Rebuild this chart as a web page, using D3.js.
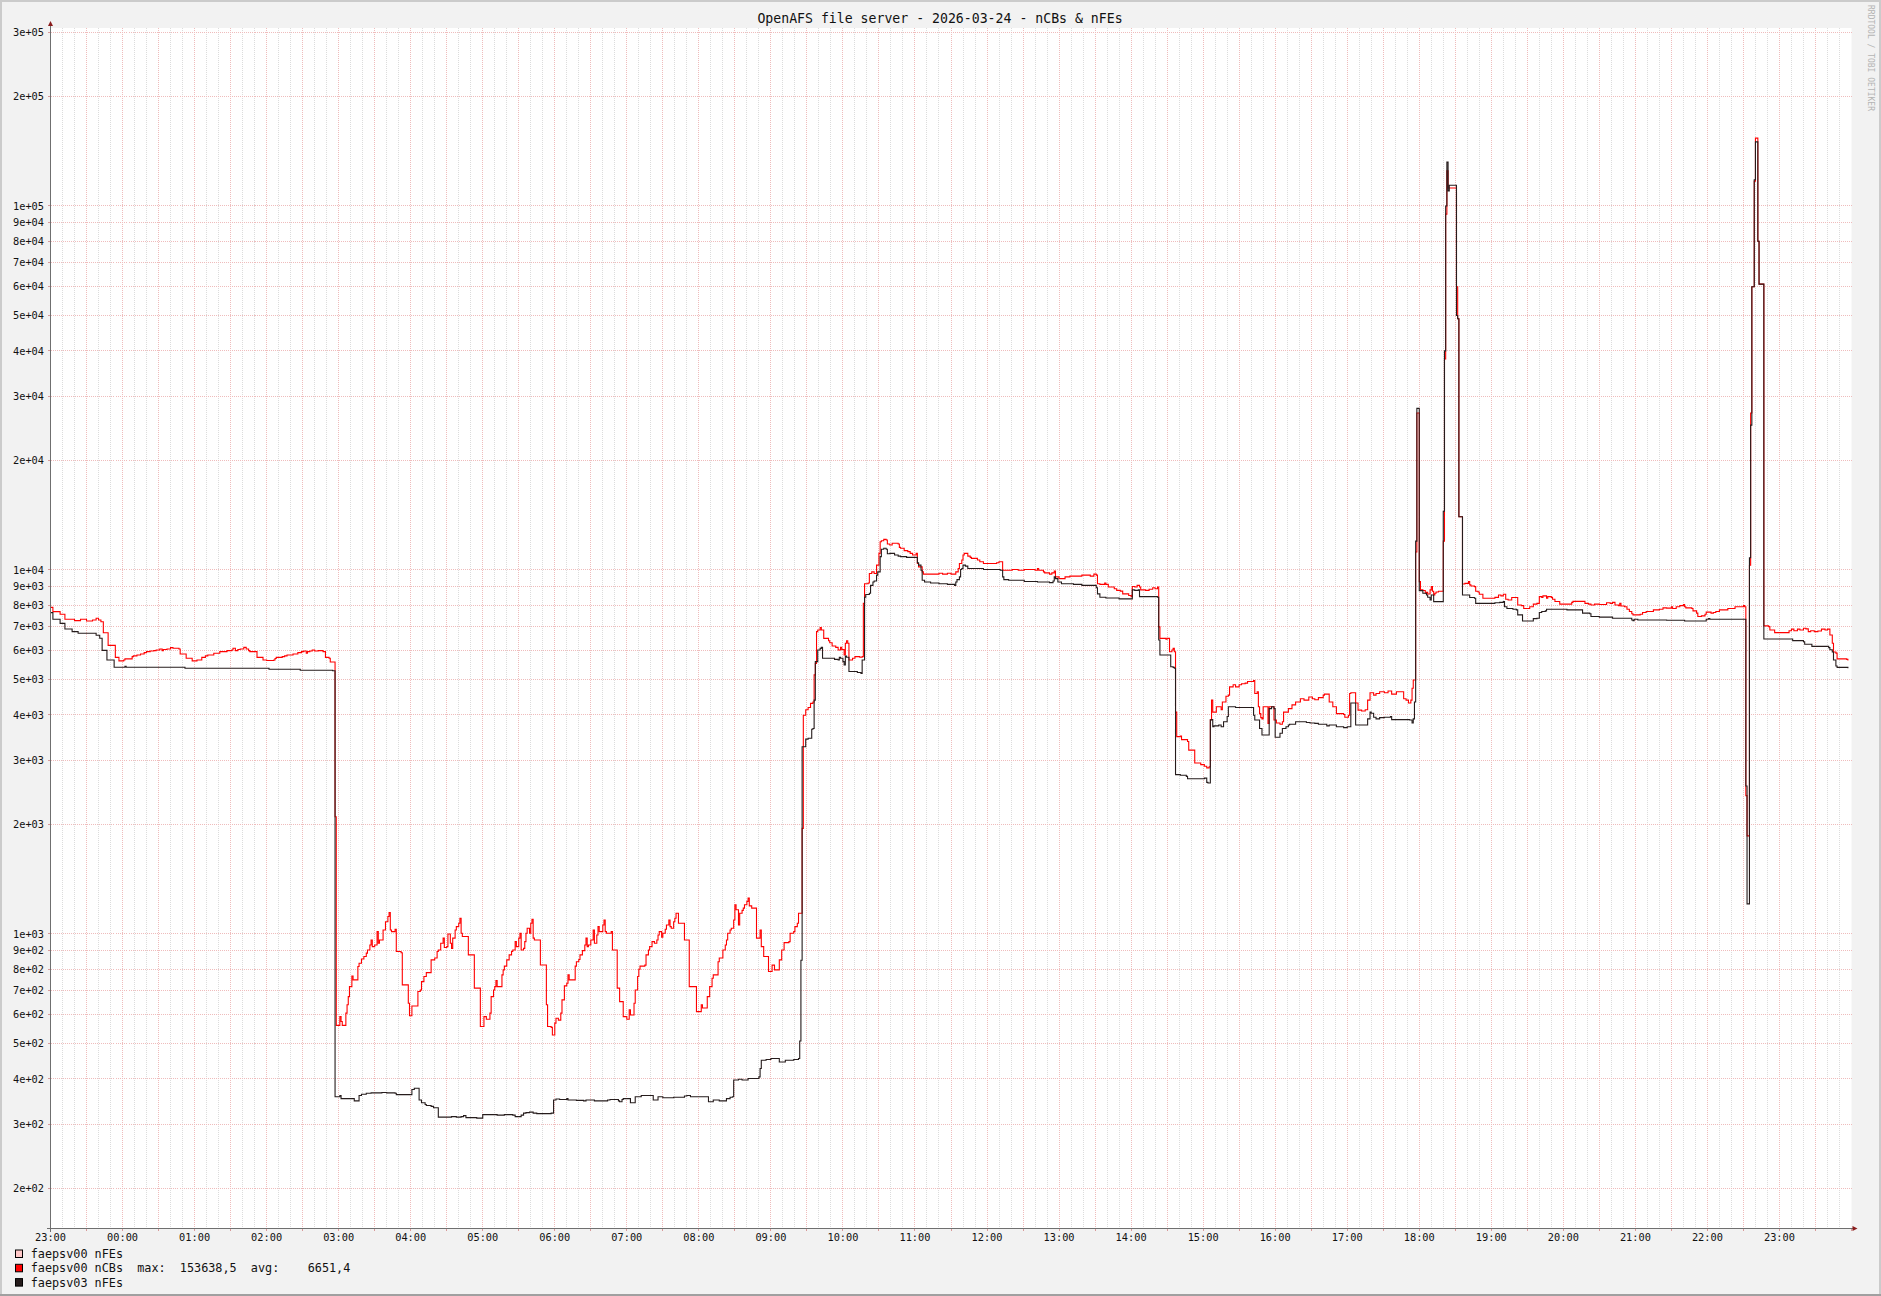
<!DOCTYPE html>
<html><head><meta charset="utf-8">
<script src="https://cdn.jsdelivr.net/npm/d3@7"></script>
<style>
html,body{margin:0;padding:0;background:#f2f2f2;}
svg{display:block;}
text{font-family:"DejaVu Sans Mono",monospace;}
</style></head><body>
<svg id="c" width="1881" height="1296"></svg>
<script>
// ---------------- data ----------------
const chartTitle = "OpenAFS file server - 2026-03-24 - nCBs & nFEs";
const watermark = "RRDTOOL / TOBI OETIKER";
// x axis: minutes since 2026-03-23 23:00, 25 hours shown
const xDomainMinutes = [0, 1500];
const hourLabels = ["23:00","00:00","01:00","02:00","03:00","04:00","05:00","06:00","07:00","08:00","09:00","10:00","11:00","12:00","13:00","14:00","15:00","16:00","17:00","18:00","19:00","20:00","21:00","22:00","23:00"];
const yDomain = [155.7, 308300];
const yTickValues = [200,300,400,500,600,700,800,900,1000,2000,3000,4000,5000,6000,7000,8000,9000,10000,20000,30000,40000,50000,60000,70000,80000,90000,100000,200000,300000];
const yTickLabels = ["2e+02","3e+02","4e+02","5e+02","6e+02","7e+02","8e+02","9e+02","1e+03","2e+03","3e+03","4e+03","5e+03","6e+03","7e+03","8e+03","9e+03","1e+04","2e+04","3e+04","4e+04","5e+04","6e+04","7e+04","8e+04","9e+04","1e+05","2e+05","3e+05"];
const seriesNames = ["faepsv00 nFEs","faepsv00 nCBs","faepsv03 nFEs"];
const seriesColors = ["#ffc8c8","#ff0000","#261c1c"];
const legendStats = ["","  max:  153638,5  avg:    6651,4",""];

// [minute, value] steps
const faepsv00Nfe = [];
const faepsv00Ncb = [[0,7895],[2,7685],[8,7555],[12,7320],[20,7260],[25,7320],[30,7240],[35,7290],[38,7370],[40,7290],[42,7210],[44,6726],[48,6209],[54,5755],[57,5627],[61,5660],[62,5700],[68,5780],[69,5807],[72,5843],[75,5879],[78,5928],[80,5965],[83,5992],[86,6004],[88,6030],[91,6068],[93,6004],[94,6050],[97,6068],[100,6118],[102,6093],[107,6068],[108,5879],[113,5720],[118,5627],[122,5660],[126,5755],[129,5807],[131,5843],[136,5904],[141,5965],[147,6004],[151,6030],[152,6093],[154,6004],[156,6050],[158,6068],[161,6131],[163,6068],[165,6004],[166,5965],[172,5755],[177,5660],[180,5640],[186,5660],[187,5710],[188,5755],[193,5780],[195,5807],[197,5843],[202,5879],[206,5928],[209,5965],[211,5992],[213,5904],[214,5965],[216,5992],[218,6030],[220,5992],[223,6004],[227,5965],[229,5755],[232,5720],[233,5588],[237,2100],[238,561],
[241,593],[242,575],[243,561],[246,606],[247,639],[248,673],[249,717],[251,767],[252,748],[256,814],[257,831],[259,854],[261,867],[263,886],[264,904],[266,933],[267,963],[268,923],[270,933],[272,1015],[273,943],[274,963],[277,1026],[279,1081],[281,1117],[282,1145],[283,1026],[284,1015],[287,1030],[288,895],[292,888],[293,725],[298,645],[299,596],[301,634],[306,695],[308,702],[309,740],[311,764],[313,783],[317,849],[320,859],[322,895],[323,904],[325,943],[327,974],[328,918],[330,923],[331,1000],[333,943],[334,913],[335,974],[337,1026],[338,1048],[340,1070],[341,1105],[342,1005],[343,984],[348,876],[353,710],[358,557],[361,593],[363,583],[366,606],[367,673],[369,702],[370,717],[371,745],[372,717],[376,772],[377,797],[378,816],[380,849],[382,876],[384,895],[385,904],[387,953],[388,923],[390,974],[391,1005],[392,904],[394,913],[395,953],[396,1005],[397,1037],[399,1005],[400,1070],[401,1098],[402,974],[403,963],[408,822],[413,639],[414,557],[417,554],[418,528],[420,569],[421,587],[423,580],[425,606],[426,659],[428,720],[430,732],[431,772],[432,748],[437,816],[438,839],[440,851],[441,876],[443,900],[445,933],[446,974],[447,923],[448,933],[450,963],[452,1026],[453,943],[455,994],[456,1048],[457,1015],[460,1059],[461,1093],[462,1015],[463,1005],[467,1015],[468,904],[472,710],[474,652],[477,593],[480,583],[482,619],[483,599],[486,645],[487,702],[489,764],[490,800],[491,816],[495,821],[496,876],[498,904],[499,923],[501,953],[503,943],[505,963],[506,994],[507,1015],[509,980],[510,1005],[512,1030],[513,1059],[515,1093],[516,1048],[517,1037],[519,1081],[520,1105],[521,1140],[523,1070],[528,963],[532,717],[538,612],[542,639],[543,626],[547,673],[549,717],[551,756],[552,772],[556,839],[557,859],[560,904],[562,933],[563,963],[564,1005],[566,1026],[567,1037],[569,1093],[570,1203],[571,1166],[573,1059],[574,1140],[576,1161],[577,1178],[578,1203],[580,1229],[581,1255],[582,1195],[584,1178],[588,974],[591,1026],[592,923],[594,867],[598,789],[601,821],[603,797],[607,849],[609,904],[611,947],[615,953],[616,1005],[619,1015],[620,1048],[622,1070],[623,1140],[626,1950],[627,3990],
[629,4130],[631,4190],[633,4300],[635,4340],[636,5150],[637,5540],[638,6770],[639,6840],[641,6950],[642,6840],[644,6490],[648,6390],[649,6310],[651,6180],[654,6130],[656,6030],[658,6130],[659,6050],[661,5840],[662,6290],[663,6390],[664,6290],[665,5660],[668,5720],[670,5780],[674,5760],[676,5780],[677,8095],[678,9170],[681,9210],[682,9780],[684,9880],[686,9780],[688,10310],[690,11110],[691,11960],[692,12030],[694,12140],[696,12090],[697,11790],[699,11710],[701,11840],[706,11790],[707,11540],[708,11470],[711,11300],[714,11230],[716,11110],[718,10990],[721,11110],[722,10420],[723,10200],[726,9880],[727,9740],[737,9740],[740,9800],[743,9740],[747,9800],[750,9740],[754,9880],[756,10090],[757,10420],[759,10650],[760,10990],[761,11110],[764,10920],[766,10830],[767,10760],[772,10650],[774,10540],[777,10420],[788,10470],[790,10540],[793,9985],[801,10030],[806,9985],[811,10030],[820,9985],[822,10090],[823,9985],[827,9880],[828,9820],[832,9740],[834,9820],[836,9940],[837,9575],[840,9470],[845,9575],[849,9620],[859,9680],[866,9620],[869,9740],[871,9680],[872,9170],[874,9130],[878,9210],[879,9130],[881,8980],[886,8880],[888,8790],[891,8750],[893,8600],[898,8510],[900,8450],[901,9010],[903,8980],[905,9070],[907,8980],[908,8820],[912,8790],[915,8850],[918,8940],[920,8880],[922,8980],[923,6980],[924,6490],[929,6450],[930,6490],[932,5960],[934,6030],[935,6090],[936,5960],[937,4070],[938,3485],[941,3500],[942,3420],[947,3380],[948,3200],[953,2950],[958,2920],[961,2890],[963,2860],[965,2880],[966,3880],[967,4390],[968,4070],[971,4210],[975,4130],[976,4340],[979,4500],[981,4530],[982,4775],[985,4840],[987,4775],[990,4840],[992,4870],[995,4890],[997,4940],[1002,4970],[1003,4580],[1005,4630],[1006,4210],[1007,4030],[1008,3930],[1009,3900],[1010,4210],[1014,3790],[1015,4210],[1019,3870],[1021,3800],[1024,3770],[1026,3830],[1027,4070],[1031,4160],[1034,4260],[1037,4340],[1041,4430],[1044,4390],[1048,4480],[1051,4430],[1053,4400],[1056,4460],[1060,4530],[1061,4560],[1065,4340],[1068,4210],[1071,4030],[1077,4010],[1078,3940],[1081,3990],[1082,4580],[1083,4600],[1087,4310],[1089,4120],[1092,4100],[1095,4130],[1097,4390],[1099,4600],[1102,4530],[1104,4580],[1107,4630],[1111,4600],[1114,4650],[1117,4560],[1121,4630],[1127,4430],[1129,4390],[1131,4310],[1133,4390],[1134,4731],[1135,4984],[1137,11200],[1138,27000],[1140,9290],[1141,8820],[1143,8780],[1145,8630],[1146,8680],[1147,8590],[1149,8820],[1150,9000],[1151,8740],[1152,8540],[1153,8630],[1154,8700],[1156,8740],[1160,12000],[1161,38000],[1162,95000],[1163,125000],[1164,112000],[1171,60000],[1172,49000],[1173,14000],[1176,9150],[1178,9190],[1181,9290],[1182,9100],[1183,9040],[1186,9000],[1187,8740],[1189,8700],[1190,8580],[1193,8365],[1203,8410],[1206,8540],[1208,8490],[1210,8580],[1212,8310],[1214,8270],[1217,8400],[1222,8010],[1225,7980],[1227,7840],[1232,7925],[1235,8060],[1238,8095],[1240,8450],[1242,8410],[1243,8490],[1246,8365],[1247,8450],[1250,8410],[1251,8310],[1253,8190],[1257,8060],[1267,8150],[1268,8200],[1278,8095],[1281,8060],[1283,8010],[1286,8060],[1290,8040],[1296,8130],[1299,8095],[1301,8150],[1303,8010],[1306,7980],[1307,8095],[1308,7960],[1311,7925],[1313,7800],[1315,7690],[1317,7580],[1318,7526],[1324,7560],[1326,7640],[1329,7690],[1335,7768],[1340,7800],[1343,7870],[1346,7855],[1350,7925],[1351,7840],[1354,7925],[1357,7980],[1360,8040],[1361,7925],[1362,7870],[1367,7840],[1368,7720],[1371,7610],[1372,7450],[1375,7480],[1378,7560],[1379,7660],[1383,7610],[1385,7640],[1387,7690],[1390,7768],[1397,7840],[1403,7925],[1410,7980],[1411,7925],[1412,2400],[1413,1860],[1415,10300],[1416,27000],[1417,60000],[1419,117000],[1420,153638],[1422,80000],[1423,61000],[1427,7020],[1431,6990],[1432,6840],[1436,6730],[1448,6810],[1450,6880],[1452,6810],[1455,6880],[1457,6840],[1460,6920],[1462,6890],[1464,6770],[1466,6810],[1469,6770],[1472,6800],[1475,6880],[1478,6840],[1480,6880],[1482,6630],[1484,6290],[1485,5950],[1487,5910],[1488,5700],[1496,5680],[1497,5640]];
const faepsv03Nfe = [[0,7635],[2,7320],[8,7136],[12,6885],[18,6771],[23,6700],[38,6616],[41,6491],[43,6014],[47,5657],[53,5404],[62,5440],[63,5404],[112,5371],[182,5339],[208,5306],[235,5285],[237,357],[241,360],[242,353],[253,348],[257,360],[259,363],[263,365],[267,366],[276,367],[280,366],[287,365],[288,362],[301,374],[303,377],[307,350],[309,344],[312,340],[313,338],[317,336],[319,333],[323,314],[334,315],[338,314],[342,315],[344,317],[346,313],[355,312],[360,319],[372,318],[378,319],[385,318],[387,315],[392,318],[394,322],[396,323],[399,324],[402,322],[405,321],[417,322],[419,350],[421,352],[424,351],[430,353],[431,350],[438,349],[444,348],[446,350],[453,348],[464,350],[466,351],[473,348],[474,346],[476,351],[477,353],[483,344],[487,357],[492,360],[502,350],[506,357],[510,355],[519,356],[528,359],[530,360],[533,357],[548,346],[552,350],[557,348],[563,353],[566,356],[568,357],[569,397],[573,399],[576,397],[581,401],[590,405],[591,427],[592,450],[596,452],[600,455],[607,445],[612,450],[619,452],[623,455],[624,508],[625,847],[626,3270],[629,3430],[631,3450],[634,3650],[635,3670],[636,4390],[637,5600],[639,6030],[641,6090],[642,6130],[643,5720],[653,5680],[656,5660],[657,5760],[658,5720],[660,5600],[661,5480],[662,5800],[663,5760],[665,5260],[672,5230],[675,5200],[676,5660],[678,8420],[679,8560],[682,8630],[683,9070],[685,9270],[686,9330],[688,9680],[689,9880],[691,10880],[692,11400],[694,11470],[696,11400],[697,11080],[699,11110],[703,10990],[706,10920],[708,10880],[713,10830],[722,10470],[723,10310],[725,9985],[726,9370],[728,9270],[733,9210],[740,9170],[747,9130],[753,9070],[754,9270],[755,9410],[757,9575],[758,10030],[759,10090],[760,10310],[762,10250],[764,10090],[777,10030],[791,9985],[793,9575],[794,9410],[798,9370],[811,9300],[822,9270],[832,9230],[835,9330],[836,9575],[837,9470],[839,9270],[842,9170],[852,9130],[859,9070],[871,8940],[872,8600],[874,8420],[879,8380],[890,8330],[901,8820],[903,8790],[906,8820],[907,8450],[922,8420],[923,6420],[924,5840],[932,5840],[933,5420],[935,5400],[936,5370],[937,2740],[941,2730],[946,2710],[947,2670],[961,2680],[963,2610],[964,2600],[966,3870],[967,3880],[968,3710],[969,3730],[973,3750],[975,3710],[977,3830],[980,3960],[981,4210],[987,4190],[1002,3990],[1003,3870],[1007,3670],[1009,3520],[1015,4160],[1017,4210],[1019,4160],[1020,3470],[1024,3560],[1026,3670],[1029,3710],[1031,3750],[1032,3770],[1037,3830],[1046,3810],[1049,3800],[1053,3790],[1056,3770],[1063,3730],[1065,3750],[1071,3710],[1077,3690],[1080,3710],[1083,4310],[1087,3750],[1097,3900],[1099,4070],[1100,4040],[1102,3940],[1104,3900],[1107,3930],[1111,3940],[1116,3960],[1117,3880],[1132,3870],[1134,3800],[1135,3900],[1136,4340],[1137,12000],[1138,27800],[1140,8776],[1143,8630],[1146,8539],[1147,8414],[1149,8274],[1150,8539],[1152,8187],[1155,8187],[1160,14500],[1161,40000],[1162,100000],[1163,132000],[1164,110000],[1165,114000],[1171,50000],[1172,49000],[1173,14000],[1176,8540],[1182,8400],[1186,8365],[1187,8095],[1203,8130],[1207,8150],[1210,8187],[1211,7925],[1213,7840],[1218,7800],[1221,7768],[1222,7526],[1226,7245],[1235,7350],[1238,7370],[1240,7640],[1242,7690],[1245,7720],[1246,7800],[1263,7768],[1276,7610],[1282,7580],[1283,7450],[1290,7420],[1301,7370],[1317,7290],[1318,7260],[1319,7320],[1322,7290],[1346,7275],[1361,7245],[1379,7320],[1381,7350],[1382,7320],[1412,2550],[1413,1210],[1415,10800],[1416,25000],[1417,60000],[1419,118000],[1420,150000],[1422,80000],[1423,61000],[1427,6464],[1451,6395],[1460,6350],[1461,6250],[1467,6170],[1481,6120],[1482,6040],[1484,5950],[1485,5660],[1487,5450],[1488,5400],[1497,5375]];
const seriesData = [faepsv00Nfe, faepsv00Ncb, faepsv03Nfe];

// ---------------- drawing ----------------
const W = 1881, H = 1296;
const plot = {left: 50.5, right: 1851.5, top: 28, bottom: 1228};
const svg = d3.select("#c");

svg.append("rect").attr("width", W).attr("height", H).attr("fill", "#f2f2f2");
// frame
svg.append("rect").attr("x",0).attr("y",0).attr("width",W).attr("height",2).attr("fill","#cbcbcb");
svg.append("rect").attr("x",0).attr("y",0).attr("width",2).attr("height",H).attr("fill","#cbcbcb");
svg.append("rect").attr("x",W-2).attr("y",0).attr("width",2).attr("height",H).attr("fill","#cbcbcb");
svg.append("rect").attr("x",0).attr("y",H-2).attr("width",W).attr("height",2).attr("fill","#a0a0a0");

const x = d3.scaleLinear().domain(xDomainMinutes).range([plot.left, plot.right]);
const y = d3.scaleLog().domain(yDomain).range([plot.bottom, plot.top]);

svg.append("rect").attr("x", plot.left).attr("y", plot.top)
  .attr("width", plot.right - plot.left).attr("height", plot.bottom - plot.top).attr("fill", "#ffffff");

const snap = v => Math.round(v - 0.5) + 0.5;
const majorGrid = "#efbcbc", minorGrid = "#dcdcdc";
const grid = svg.append("g");
// vertical grid: minor every 10 min, major every 30 min
const vTicks = d3.range(10, xDomainMinutes[1], 10);
grid.selectAll("line.v").data(vTicks).join("line")
  .attr("x1", d => snap(x(d))).attr("x2", d => snap(x(d)))
  .attr("y1", plot.top).attr("y2", plot.bottom)
  .attr("stroke", d => d % 30 === 0 ? majorGrid : minorGrid)
  .attr("stroke-width", 1).attr("stroke-dasharray", "1,1")
  .attr("shape-rendering", "crispEdges");
// horizontal grid
grid.selectAll("line.h").data(yTickValues).join("line")
  .attr("x1", plot.left).attr("x2", plot.right)
  .attr("y1", d => snap(y(d))).attr("y2", d => snap(y(d)))
  .attr("stroke", majorGrid).attr("stroke-width", 1).attr("stroke-dasharray", "1,1")
  .attr("shape-rendering", "crispEdges");
// y tick marks
grid.selectAll("line.yt").data(yTickValues).join("line")
  .attr("x1", plot.left - 3).attr("x2", plot.left)
  .attr("y1", d => snap(y(d))).attr("y2", d => snap(y(d)))
  .attr("stroke", "#d89a9a").attr("stroke-width", 1).attr("shape-rendering", "crispEdges");
// x tick marks
grid.selectAll("line.xt").data(d3.range(0, xDomainMinutes[1] + 1, 30)).join("line")
  .attr("x1", d => snap(x(d))).attr("x2", d => snap(x(d)))
  .attr("y1", plot.bottom).attr("y2", plot.bottom + 3)
  .attr("stroke", "#d89a9a").attr("stroke-width", 1).attr("shape-rendering", "crispEdges");

// data lines
const line = d3.line().x(d => x(d[0])).y(d => y(d[1])).curve(d3.curveStepAfter);
const lines = svg.append("g");
seriesData.forEach((data, i) => {
  if (!data.length) return;
  lines.append("path").datum(data)
    .attr("d", line).attr("fill", "none")
    .attr("stroke", seriesColors[i]).attr("stroke-width", 1.1)
    .attr("stroke-linejoin", "miter");
});

// axes
const axisColor = "#6f6f6f", arrowColor = "#8a1c1c";
svg.append("line").attr("x1", plot.left).attr("x2", plot.left).attr("y1", plot.bottom + 4).attr("y2", 25)
  .attr("stroke", axisColor).attr("stroke-width", 1).attr("shape-rendering","crispEdges");
svg.append("line").attr("x1", plot.left - 4).attr("x2", plot.right + 2).attr("y1", plot.bottom + 0.5).attr("y2", plot.bottom + 0.5)
  .attr("stroke", axisColor).attr("stroke-width", 1).attr("shape-rendering","crispEdges");
svg.append("path").attr("d", `M${plot.left-2.5},26 L${plot.left+2.5},26 L${plot.left},21 Z`).attr("fill", arrowColor);
svg.append("path").attr("d", `M${plot.right+1},${plot.bottom-2} L${plot.right+1},${plot.bottom+3} L${plot.right+6},${plot.bottom+0.5} Z`).attr("fill", arrowColor);

// y labels
svg.append("g").selectAll("text").data(yTickValues).join("text")
  .attr("x", 44).attr("y", d => y(d) + 3.7)
  .attr("text-anchor", "end").attr("font-size", "10.3px").attr("fill", "#111")
  .text((d, i) => yTickLabels[i]);
// x labels
svg.append("g").selectAll("text").data(hourLabels).join("text")
  .attr("x", (d, i) => x(i * 60)).attr("y", 1241)
  .attr("text-anchor", "middle").attr("font-size", "10.3px").attr("fill", "#111")
  .text(d => d);

// title
svg.append("text").attr("x", 940).attr("y", 22.5).attr("text-anchor", "middle")
  .attr("font-size", "13.2px").attr("fill", "#111").text(chartTitle);

// watermark
svg.append("text").attr("transform", "translate(1868,5) rotate(90)")
  .attr("font-size", "8px").attr("fill", "#b4b4b4").text(watermark);

// legend
const legend = svg.append("g");
seriesNames.forEach((name, i) => {
  const by = 1258 + i * 14.3;
  legend.append("rect").attr("x", 15.5).attr("y", by - 8).attr("width", 7).attr("height", 7.5)
    .attr("fill", seriesColors[i]).attr("stroke", "#000").attr("stroke-width", 1);
  legend.append("text").attr("x", 30.7).attr("y", by)
    .attr("font-size", "11.8px").attr("fill", "#111").attr("xml:space", "preserve")
    .style("white-space", "pre")
    .text(name + legendStats[i]);
});
</script>
</body></html>
